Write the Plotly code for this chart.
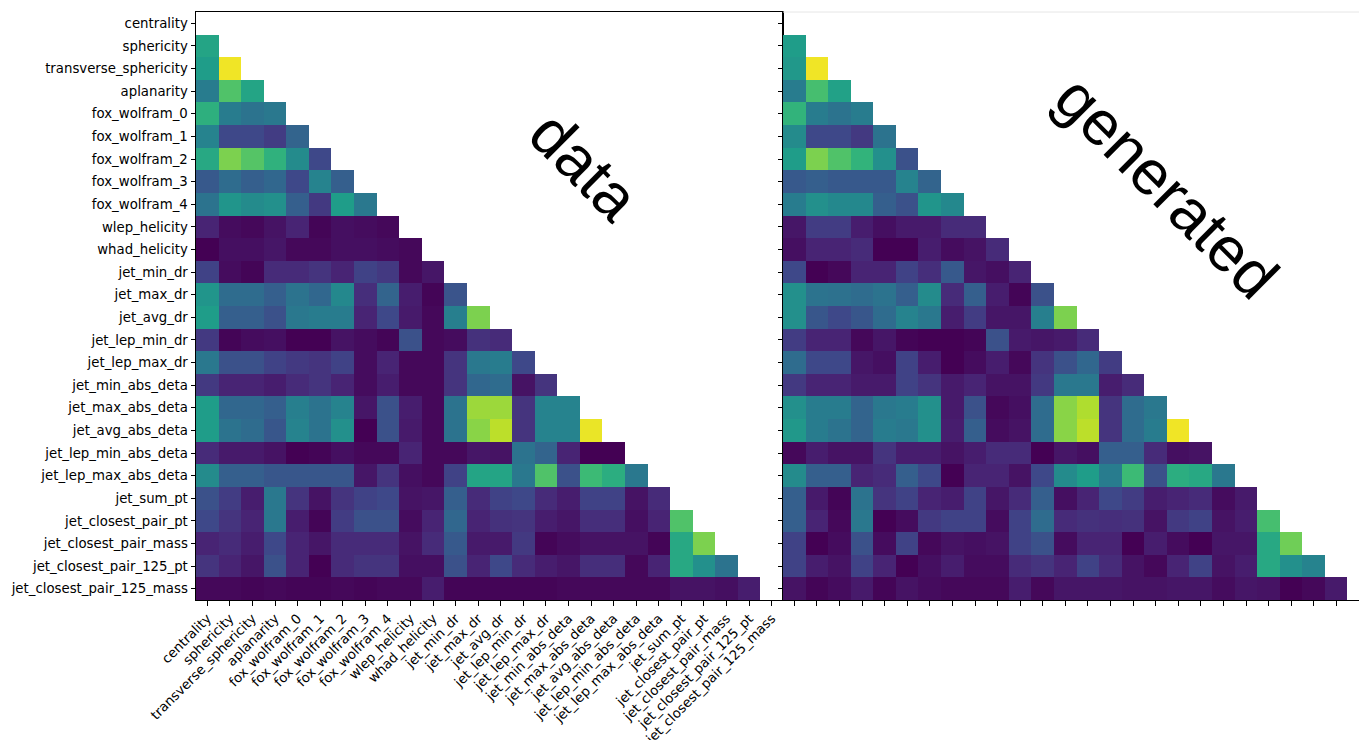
import plotly.graph_objects as go

labels = ["centrality", "sphericity", "transverse_sphericity", "aplanarity",
          "fox_wolfram_0", "fox_wolfram_1", "fox_wolfram_2", "fox_wolfram_3",
          "fox_wolfram_4", "wlep_helicity", "whad_helicity", "jet_min_dr",
          "jet_max_dr", "jet_avg_dr", "jet_lep_min_dr", "jet_lep_max_dr",
          "jet_min_abs_deta", "jet_max_abs_deta", "jet_avg_abs_deta",
          "jet_lep_min_abs_deta", "jet_lep_max_abs_deta", "jet_sum_pt",
          "jet_closest_pair_pt", "jet_closest_pair_mass",
          "jet_closest_pair_125_pt", "jet_closest_pair_125_mass"]

# lower-triangle rows (row i holds columns 0..i-1), |correlation| estimates
data_rows = [
    [],
    [0.58],
    [0.55, 0.98],
    [0.42, 0.72, 0.58],
    [0.63, 0.42, 0.38, 0.40],
    [0.45, 0.22, 0.22, 0.18, 0.32],
    [0.60, 0.80, 0.73, 0.64, 0.48, 0.22],
    [0.28, 0.35, 0.30, 0.33, 0.22, 0.45, 0.30],
    [0.38, 0.52, 0.48, 0.50, 0.30, 0.17, 0.55, 0.40],
    [0.10, 0.03, 0.02, 0.05, 0.10, 0.01, 0.04, 0.03, 0.02],
    [0.00, 0.04, 0.04, 0.06, 0.02, 0.02, 0.04, 0.04, 0.03, 0.02],
    [0.20, 0.03, 0.01, 0.12, 0.12, 0.15, 0.10, 0.20, 0.17, 0.02, 0.06],
    [0.52, 0.35, 0.35, 0.30, 0.38, 0.33, 0.47, 0.13, 0.32, 0.08, 0.01, 0.26],
    [0.55, 0.30, 0.30, 0.25, 0.40, 0.42, 0.42, 0.10, 0.22, 0.07, 0.02, 0.43, 0.80],
    [0.17, 0.01, 0.03, 0.04, 0.00, 0.00, 0.05, 0.03, 0.01, 0.25, 0.02, 0.03, 0.14, 0.12],
    [0.40, 0.25, 0.25, 0.20, 0.17, 0.15, 0.20, 0.03, 0.10, 0.02, 0.02, 0.15, 0.40, 0.42, 0.22],
    [0.17, 0.10, 0.10, 0.08, 0.12, 0.15, 0.10, 0.03, 0.08, 0.02, 0.02, 0.15, 0.33, 0.35, 0.05, 0.15],
    [0.55, 0.33, 0.33, 0.30, 0.43, 0.38, 0.45, 0.06, 0.25, 0.08, 0.02, 0.38, 0.85, 0.85, 0.15, 0.45, 0.45],
    [0.55, 0.38, 0.35, 0.27, 0.45, 0.38, 0.50, 0.00, 0.25, 0.07, 0.02, 0.38, 0.82, 0.90, 0.15, 0.45, 0.45, 0.97],
    [0.12, 0.07, 0.07, 0.05, 0.00, 0.01, 0.04, 0.02, 0.02, 0.10, 0.02, 0.02, 0.06, 0.05, 0.38, 0.32, 0.10, 0.00, 0.00],
    [0.48, 0.30, 0.30, 0.27, 0.27, 0.27, 0.27, 0.06, 0.15, 0.04, 0.02, 0.20, 0.58, 0.58, 0.40, 0.72, 0.25, 0.68, 0.62, 0.40],
    [0.25, 0.18, 0.08, 0.40, 0.15, 0.05, 0.15, 0.20, 0.22, 0.05, 0.06, 0.30, 0.12, 0.20, 0.22, 0.12, 0.08, 0.20, 0.20, 0.05, 0.12],
    [0.22, 0.15, 0.10, 0.40, 0.08, 0.01, 0.18, 0.25, 0.25, 0.03, 0.10, 0.33, 0.10, 0.14, 0.15, 0.08, 0.06, 0.13, 0.13, 0.04, 0.10, 0.72],
    [0.10, 0.12, 0.08, 0.22, 0.10, 0.06, 0.12, 0.12, 0.12, 0.05, 0.12, 0.28, 0.07, 0.07, 0.17, 0.01, 0.03, 0.05, 0.05, 0.05, 0.01, 0.60, 0.80],
    [0.15, 0.10, 0.06, 0.25, 0.10, 0.00, 0.12, 0.15, 0.15, 0.04, 0.04, 0.25, 0.10, 0.22, 0.12, 0.08, 0.06, 0.13, 0.13, 0.02, 0.10, 0.60, 0.50, 0.38],
    [0.02, 0.02, 0.01, 0.02, 0.01, 0.01, 0.02, 0.01, 0.02, 0.02, 0.08, 0.01, 0.01, 0.01, 0.01, 0.01, 0.02, 0.02, 0.02, 0.02, 0.02, 0.05, 0.05, 0.04, 0.08],
]

gen_rows = [
    [],
    [0.55],
    [0.53, 0.98],
    [0.42, 0.70, 0.57],
    [0.65, 0.42, 0.38, 0.42],
    [0.48, 0.22, 0.22, 0.17, 0.38],
    [0.55, 0.80, 0.72, 0.65, 0.50, 0.25],
    [0.28, 0.30, 0.28, 0.28, 0.28, 0.45, 0.32],
    [0.42, 0.50, 0.47, 0.47, 0.30, 0.25, 0.52, 0.47],
    [0.06, 0.18, 0.18, 0.08, 0.04, 0.07, 0.07, 0.12, 0.12],
    [0.04, 0.10, 0.10, 0.12, 0.00, 0.00, 0.08, 0.03, 0.05, 0.12],
    [0.22, 0.00, 0.02, 0.10, 0.10, 0.20, 0.13, 0.28, 0.06, 0.04, 0.10],
    [0.50, 0.38, 0.37, 0.35, 0.38, 0.30, 0.48, 0.12, 0.30, 0.08, 0.01, 0.25],
    [0.50, 0.27, 0.22, 0.27, 0.35, 0.45, 0.40, 0.08, 0.18, 0.06, 0.06, 0.43, 0.80],
    [0.18, 0.10, 0.10, 0.02, 0.06, 0.01, 0.00, 0.00, 0.01, 0.25, 0.07, 0.06, 0.07, 0.12],
    [0.35, 0.22, 0.22, 0.06, 0.04, 0.20, 0.08, 0.00, 0.03, 0.08, 0.02, 0.15, 0.25, 0.33, 0.18],
    [0.17, 0.10, 0.10, 0.07, 0.07, 0.20, 0.15, 0.07, 0.10, 0.05, 0.05, 0.17, 0.40, 0.40, 0.08, 0.12],
    [0.50, 0.42, 0.42, 0.32, 0.40, 0.42, 0.50, 0.07, 0.25, 0.02, 0.04, 0.35, 0.82, 0.88, 0.15, 0.35, 0.40],
    [0.53, 0.42, 0.38, 0.32, 0.42, 0.40, 0.50, 0.08, 0.30, 0.03, 0.05, 0.35, 0.82, 0.90, 0.15, 0.35, 0.42, 0.98],
    [0.02, 0.08, 0.05, 0.05, 0.15, 0.08, 0.08, 0.05, 0.08, 0.12, 0.12, 0.00, 0.06, 0.04, 0.30, 0.30, 0.12, 0.04, 0.05],
    [0.48, 0.30, 0.30, 0.10, 0.12, 0.30, 0.22, 0.00, 0.10, 0.10, 0.05, 0.22, 0.48, 0.55, 0.42, 0.68, 0.25, 0.62, 0.60, 0.40],
    [0.30, 0.07, 0.01, 0.38, 0.15, 0.20, 0.10, 0.08, 0.20, 0.06, 0.12, 0.30, 0.04, 0.10, 0.22, 0.18, 0.08, 0.10, 0.12, 0.03, 0.07],
    [0.30, 0.10, 0.02, 0.40, 0.00, 0.03, 0.17, 0.20, 0.20, 0.03, 0.20, 0.35, 0.12, 0.14, 0.13, 0.14, 0.05, 0.17, 0.20, 0.05, 0.08, 0.70],
    [0.20, 0.00, 0.03, 0.25, 0.03, 0.20, 0.02, 0.05, 0.04, 0.05, 0.20, 0.25, 0.03, 0.10, 0.10, 0.00, 0.08, 0.03, 0.00, 0.06, 0.06, 0.60, 0.78],
    [0.20, 0.08, 0.05, 0.20, 0.10, 0.00, 0.04, 0.08, 0.03, 0.03, 0.12, 0.15, 0.10, 0.20, 0.12, 0.05, 0.02, 0.10, 0.20, 0.05, 0.08, 0.60, 0.50, 0.45],
    [0.05, 0.01, 0.03, 0.07, 0.01, 0.05, 0.03, 0.02, 0.02, 0.02, 0.08, 0.02, 0.06, 0.06, 0.06, 0.05, 0.05, 0.06, 0.06, 0.03, 0.06, 0.05, 0.00, 0.02, 0.07],
]

panel_titles = ["data", "generated"]

n = len(labels)


def to_matrix(rows):
    return [[(rows[i][j] if j < i else None) for j in range(n)] for i in range(n)]


idx = list(range(n))
W, H = 1359, 740
FONT = "DejaVu Sans"
TITLE_FONT = "Liberation Sans, Arial, sans-serif"

fig = go.Figure()
fig.add_trace(go.Heatmap(z=to_matrix(data_rows), x=idx, y=idx, colorscale="Viridis",
                         zmin=0, zmax=1, showscale=False, xaxis="x", yaxis="y",
                         hoverongaps=False))
fig.add_trace(go.Heatmap(z=to_matrix(gen_rows), x=idx, y=idx, colorscale="Viridis",
                         zmin=0, zmax=1, showscale=False, xaxis="x2", yaxis="y2",
                         hoverongaps=False))

x0, x1 = 196, 783
ytop, ybot = 12, 600
ydom = [(H - ybot) / H, (H - ytop) / H]

common = dict(ticks="outside", ticklen=4.5, tickwidth=1, tickcolor="black",
              showgrid=False, zeroline=False, automargin=False,
              tickfont=dict(family=FONT, size=13.3, color="black"))

fig.update_layout(
    width=W, height=H,
    margin=dict(l=0, r=0, t=0, b=0, pad=0),
    paper_bgcolor="white", plot_bgcolor="white",
    font=dict(family=FONT, color="black"),
    xaxis=dict(domain=[x0 / W, x1 / W], range=[-0.5, n - 0.5], tickmode="array",
               tickvals=idx, ticktext=labels, tickangle=-45, showline=True,
               linecolor="black", linewidth=1, mirror=True, anchor="y", **common),
    yaxis=dict(domain=ydom, range=[n - 0.5, -0.5], tickmode="array",
               tickvals=idx, ticktext=labels, showline=True, linecolor="black",
               linewidth=1, mirror=True, anchor="x", **common),
    xaxis2=dict(domain=[x1 / W, 1.0], range=[-0.5, n - 1.0], tickmode="array",
                tickvals=idx, showticklabels=False, showline=True,
                linecolor="black", linewidth=1, anchor="y2", **common),
    yaxis2=dict(domain=ydom, range=[n - 0.5, -0.5], tickmode="array",
                tickvals=idx, showticklabels=False, showline=True,
                linecolor="black", linewidth=1, anchor="x2", **common),
    annotations=[
        dict(text=panel_titles[0], x=585 / W, y=(H - 166) / H, xref="paper", yref="paper",
             xanchor="center", yanchor="middle",
             showarrow=False, textangle=45, font=dict(family=TITLE_FONT, size=63, color="black")),
        dict(text=panel_titles[1], x=1167 / W, y=(H - 187) / H, xref="paper", yref="paper",
             xanchor="center", yanchor="middle",
             showarrow=False, textangle=45, font=dict(family=TITLE_FONT, size=63, color="black")),
    ],
    shapes=[
        dict(type="line", xref="paper", yref="paper", x0=x1 / W, x1=1.0,
             y0=ydom[1], y1=ydom[1], line=dict(color="#e6e6e6", width=1)),
    ],
)

fig.write_html("out.html", config={"displayModeBar": False},
               post_script="document.body.style.margin='0';document.body.style.overflow='hidden';")
